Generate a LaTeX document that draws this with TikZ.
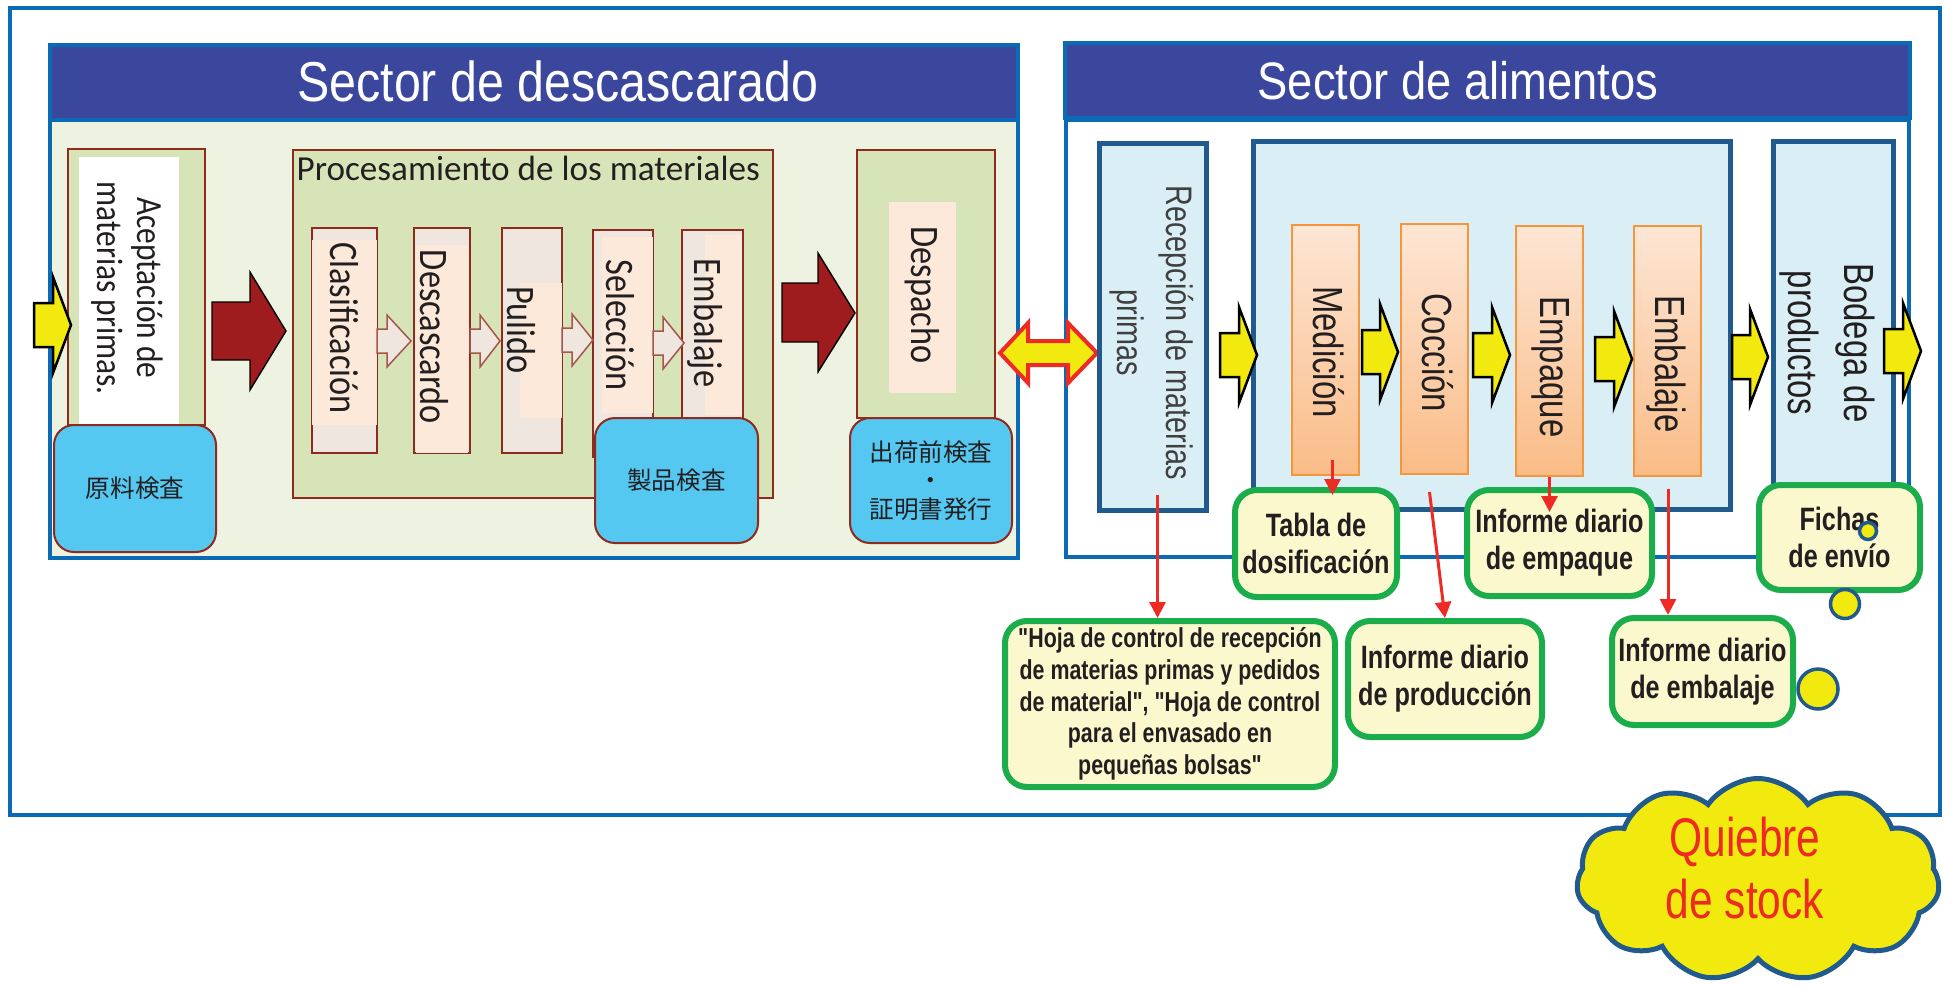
\documentclass[tikz,border=0pt]{standalone}
\usepackage{fontspec}
\setmainfont{Liberation Sans}
\newfontfamily\headfont[FakeStretch=0.86]{Liberation Sans}
\newfontfamily\narrowfont[FakeStretch=0.78]{Liberation Sans}
\newfontfamily\calfont{Carlito}
\newfontfamily\calnarrow[FakeStretch=0.85]{Carlito}
\newfontfamily\cjkfont{Noto Sans CJK JP}
\usepackage{xcolor}
\usepackage{tikz}
\usetikzlibrary{arrows.meta,positioning,shapes.symbols,calc}

\definecolor{frameblue}{HTML}{0B6AB4}
\definecolor{headblue}{HTML}{3A479D}
\definecolor{darkblue}{HTML}{215A8D}
\definecolor{paleblue}{HTML}{DAEEF5}
\definecolor{imgbg}{HTML}{EEF2E1}
\definecolor{leafgreen}{HTML}{D6E4B8}
\definecolor{brickred}{HTML}{8E2B1E}
\definecolor{beige}{HTML}{FCE9DA}
\definecolor{stepgray}{HTML}{EFE6DF}
\definecolor{skyblue}{HTML}{55C8F2}
\definecolor{arrowred}{HTML}{9E1B1E}
\definecolor{boxyellow}{HTML}{F2EA0F}
\definecolor{orangeline}{HTML}{F5963C}
\definecolor{orangetop}{HTML}{FDE6D5}
\definecolor{orangebot}{HTML}{FABC87}
\definecolor{docfill}{HTML}{FBF8CD}
\definecolor{docgreen}{HTML}{1BAD4B}
\definecolor{linkred}{HTML}{EE2A24}
\definecolor{txtgray}{HTML}{231F20}

\begin{document}
\begin{tikzpicture}[x=0.1mm,y=-0.1mm,
  sector/.style={draw=frameblue,line width=0.4mm},
  sechead/.style={sector,fill=headblue,inner sep=0},
  sectitle/.style={text=white,inner sep=0},
  leafbox/.style={draw=brickred,line width=0.2mm,fill=leafgreen,inner sep=0},
  stepbox/.style={draw=brickred,line width=0.2mm,fill=stepgray,inner sep=0},
  beigebox/.style={fill=beige,inner sep=0},
  chkbox/.style={draw=brickred,line width=0.2mm,fill=skyblue,rounded corners=2mm,inner sep=0,
    align=center,text=txtgray,font=\cjkfont\fontsize{7}{8.3}\selectfont},
  vcal/.style={rotate=-90,inner sep=0,align=center,text=txtgray,font=\calnarrow\fontsize{11.5}{13}\selectfont},
  bluebox/.style={draw=darkblue,line width=0.5mm,fill=paleblue,inner sep=0},
  orbox/.style={draw=orangeline,line width=0.2mm,top color=orangetop,bottom color=orangebot,
    inner sep=0,minimum width=6.7mm,minimum height=25mm},
  vtext/.style={rotate=-90,inner sep=0,align=center,text=txtgray,font=\narrowfont\fontsize{12}{15.9}\selectfont},
  docbox/.style={draw=docgreen,line width=0.6mm,fill=docfill,rounded corners=2.2mm,inner sep=0,
    align=center,text=txtgray,font=\narrowfont\bfseries\fontsize{9.2}{10.5}\selectfont},
  link/.style={draw=linkred,line width=0.3mm,-{Triangle[length=1.6mm,width=1.6mm]}},
  yarrow/.style={fill=boxyellow,draw=black,line width=0.25mm},
  rarrow/.style={fill=arrowred},
  larrow/.style={fill=stepgray,draw=brickred!80,line width=0.15mm},
  bubble/.style={circle,draw=darkblue,line width=0.35mm,fill=boxyellow,inner sep=0}]
  \useasboundingbox (0,0) rectangle (1946,986);

  % outer frame
  \draw[sector] (10,8) rectangle (1940,815);

  % sector de descascarado
  \node[sector,fill=imgbg,inner sep=0,minimum width=96.8mm,minimum height=43.8mm] (bodyL) at (534,339) {};
  \node[sechead,minimum width=96.8mm,minimum height=7.5mm] (headL) at (534,82.5) {};
  \node[sectitle,font=\headfont\fontsize{16}{18}\selectfont] (titleL) at (558,81) {Sector de descascarado};

  \node[leafbox,minimum width=13.7mm,minimum height=27.6mm] (acep) at (136.5,287) {};
  \node[fill=white,inner sep=0,minimum width=10mm,minimum height=26.8mm] (acepw) at (129,291) {};
  \node[vcal,font=\calnarrow\fontsize{10.5}{11.3}\selectfont] (aceptxt) at (127,288) {Aceptación de\\materias primas.};
  \node[chkbox,minimum width=16.2mm,minimum height=12.7mm] (chk1) at (135,488.5) {原料検査};

  \filldraw[rarrow] (212,302) -- (250,302) -- (250,272) -- (286,331) -- (250,390) -- (250,360) -- (212,360) -- cycle;

  \node[leafbox,minimum width=48mm,minimum height=34.8mm] (proc) at (533,324) {};
  \node[anchor=base west,inner sep=0,text=txtgray,font=\calfont\fontsize{10}{12}\selectfont] (proctxt) at (296,180) {Procesamiento de los materiales};

  \node[stepbox,minimum width=6.5mm,minimum height=22.5mm] (clas) at (344.5,340.5) {};
  \node[beigebox,minimum width=6.5mm,minimum height=18.5mm] at (344.5,332.5) {};
  \node[vcal] (clastxt) at (344,328) {Clasificación};
  \node[stepbox,minimum width=5.6mm,minimum height=22.5mm] (desc) at (442,340.5) {};
  \node[beigebox,minimum width=5.2mm,minimum height=20.8mm] at (442,349) {};
  \node[vcal] (desctxt) at (434,337) {Descascardo};
  \node[stepbox,minimum width=6mm,minimum height=22.5mm] (puli) at (532,340.5) {};
  \node[beigebox,minimum width=4.2mm,minimum height=13.5mm] at (541,350.5) {};
  \node[vcal] (pulitxt) at (521,330) {Pulido};
  \node[stepbox,minimum width=6mm,minimum height=22.7mm] (sele) at (623,343.5) {};
  \node[beigebox,minimum width=5.1mm,minimum height=17.6mm] at (627.5,325) {};
  \node[vcal] (seletxt) at (620,325) {Selección};
  \node[stepbox,minimum width=6.1mm,minimum height=22mm] (emba) at (712.5,340) {};
  \node[beigebox,minimum width=3.7mm,minimum height=18mm] at (723.5,325) {};
  \node[vcal] (embatxt) at (705,323) {Embalaje};

  \foreach \xa/\xh/\xb/\yc in {377/387/411/341, 470/480/500/341, 562/572/593/340, 653/663/684/343}
    \filldraw[larrow] (\xa,\yc-12) -- (\xh,\yc-12) -- (\xh,\yc-26) -- (\xb,\yc) -- (\xh,\yc+26) -- (\xh,\yc+12) -- (\xa,\yc+12) -- cycle;

  \node[chkbox,minimum width=16.3mm,minimum height=12.5mm] (chk2) at (676.5,480.5) {製品検査};

  \filldraw[rarrow] (782,283) -- (818,283) -- (818,253) -- (855,313) -- (818,372) -- (818,342) -- (782,342) -- cycle;

  \node[leafbox,minimum width=13.8mm,minimum height=26.8mm] (desp) at (926,284) {};
  \node[beigebox,minimum width=6.7mm,minimum height=19.1mm] at (922.5,297.5) {};
  \node[vcal] (desptxt) at (922,295) {Despacho};
  \node[chkbox,minimum width=16.2mm,minimum height=12.5mm,font=\cjkfont\fontsize{7}{8.2}\selectfont] (chk3) at (931,480.5) {出荷前検査\\・\\証明書発行};

  % sector de alimentos
  \node[sector,fill=white,inner sep=0,minimum width=84.3mm,minimum height=43.7mm] (bodyR) at (1487,338.5) {};
  \node[sechead,minimum width=84.5mm,minimum height=7.5mm] (headR) at (1487,80.5) {};
  \node[sectitle,font=\headfont\fontsize{15}{18}\selectfont] (titleR) at (1458,81) {Sector de alimentos};

  \filldraw[fill=boxyellow,draw=linkred,line width=0.4mm] (1000,353) -- (1028,323) -- (1028,341) -- (1068,341) -- (1068,323)
    -- (1097,353) -- (1068,383) -- (1068,365) -- (1028,365) -- (1028,383) -- cycle;

  \node[bluebox,minimum width=10.7mm,minimum height=36.7mm] (recep) at (1152.5,326.5) {};
  \node[vtext,text=black!75,font=\narrowfont\fontsize{10.5}{13.9}\selectfont] (receptxt) at (1152,333) {Recepción de materias\\primas};

  \node[bluebox,minimum width=47.7mm,minimum height=36.8mm] (cook) at (1491.5,325) {};
  \node[orbox] (med) at (1325.5,350) {};
  \node[vtext] at (1329,352) {Medición};
  \node[orbox] (coc) at (1434.5,349) {};
  \node[vtext] at (1437.5,352.5) {Cocción};
  \node[orbox] (emp) at (1549.5,350.5) {};
  \node[vtext] at (1551,367) {Empaque};
  \node[orbox] (emb) at (1667,350.5) {};
  \node[vtext] at (1666,364) {Embalaje};

  \node[bluebox,minimum width=12mm,minimum height=34.4mm] (bodega) at (1833,313) {};
  \node[vtext] (bodegatxt) at (1827,343) {Bodega de\\productos};

  \foreach \xa/\xb/\yc in {34/71/325, 1220/1257/355, 1362/1398/352, 1473/1510/355, 1595/1632/359, 1732/1768/357, 1884/1921/351}
    \filldraw[yarrow] (\xa,\yc-22) -- (\xb-18,\yc-22) -- (\xb-18,\yc-48) -- (\xb,\yc) -- (\xb-18,\yc+48) -- (\xb-18,\yc+22) -- (\xa,\yc+22) -- cycle;

  % registros
  \node[docbox,minimum width=16.2mm,minimum height=10.7mm] (tabla) at (1316,543.5) {Tabla de\\dosificación};
  \node[docbox,minimum width=18.5mm,minimum height=10.6mm] (infemp) at (1559.5,543) {Informe diario\\de empaque};
  \node[docbox,minimum width=16.1mm,minimum height=10.5mm] (fichas) at (1839.5,537.5) {Fichas\\de envío};
  \node[docbox,minimum width=33mm,minimum height=16.6mm,font=\narrowfont\bfseries\fontsize{7.8}{9}\selectfont] (hoja) at (1170,704)
    {"Hoja de control de recepción\\de materias primas y pedidos\\de material", "Hoja de control\\para el envasado en\\pequeñas bolsas"};
  \node[docbox,minimum width=19.4mm,minimum height=11.6mm] (prod) at (1445,679) {Informe diario\\de producción};
  \node[docbox,minimum width=18.1mm,minimum height=10.7mm] (infemb) at (1702.5,671.5) {Informe diario\\de embalaje};

  \draw[link] ($(recep.south)+(5,-18)$) -- ($(recep.south |- hoja.north)+(5,0)$);
  \draw[link] ($(med.south)+(7,-16)$) -- ($(med.south |- tabla.north)+(7,8)$);
  \draw[link] ($(coc.south)+(-5,17)$) -- (prod.north);
  \draw[link] (emp.south) -- ($(emp.south |- infemp.north)+(0,25)$);
  \draw[link] ($(emb.south)+(1,12)$) -- ($(emb.south |- infemb.north)+(1,0)$);

  \node[bubble,minimum size=1.7mm] (b1) at (1868,531) {};
  \node[bubble,minimum size=2.9mm] (b2) at (1845,604) {};
  \node[bubble,minimum size=4mm] (b3) at (1818,689) {};

  % quiebre de stock
  \node[cloud,cloud puffs=11,cloud puff arc=110,aspect=1.76,draw=darkblue,line width=0.5mm,fill=boxyellow,
    inner sep=0,minimum width=36.3mm,minimum height=20.3mm] (stock) at (1758,880) {};
  \node[text=linkred,align=center,inner sep=0,font=\narrowfont\fontsize{15.5}{17.4}\selectfont] (stocktxt) at (1745,868) {Quiebre\\de stock};
\end{tikzpicture}
\end{document}
